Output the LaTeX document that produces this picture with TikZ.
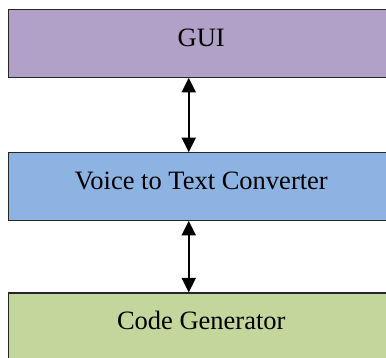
\documentclass[tikz,border=0pt]{standalone}
\usepackage{fontspec}
\setmainfont{Liberation Serif}
\usetikzlibrary{arrows.meta}
\definecolor{guicol}{HTML}{B1A0C7}
\definecolor{vttcol}{HTML}{8DB3E2}
\definecolor{codecol}{HTML}{C3D69B}

\begin{document}
\begin{tikzpicture}[x=1pt,y=1pt,
		block/.style={draw=black!85,line width=1.3pt,rectangle,minimum width=385.5pt,minimum height=67.5pt,inner sep=0pt,text height=17.5pt,text depth=11pt,font=\fontsize{26.5}{30}\selectfont},
		link/.style={{Triangle[length=14.5pt,width=14pt]}-{Triangle[length=14.5pt,width=14pt]},line width=2pt}]
			\clip (0,0) rectangle (386,358);
			\node[block,fill=guicol] (gui) at (201.25,314.5){GUI};
			\node[block,fill=vttcol] (vtt) at (201.25,171.5){Voice to Text Converter};
			\node[block,fill=codecol] (code) at (201.25,31.25){Code Generator};
			\draw[link] ([xshift=-12.5pt]gui.south) -- ([xshift=-12.5pt]vtt.north);
			\draw[link] ([xshift=-12.5pt]vtt.south) -- ([xshift=-12.5pt]code.north);
		\end{tikzpicture}
\end{document}
